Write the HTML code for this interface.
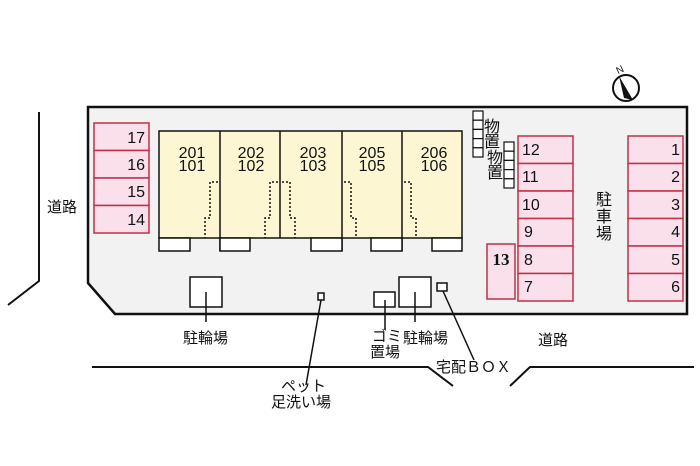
<!DOCTYPE html>
<html><head><meta charset="utf-8"><style>
html,body{margin:0;padding:0;background:#fff;}
svg{display:block;}
text{font-family:"Liberation Sans","Noto Sans CJK JP",sans-serif;fill:#111;}
</style></head><body>
<svg width="700" height="466" viewBox="0 0 700 466" xmlns="http://www.w3.org/2000/svg">
<rect width="700" height="466" fill="#fff"/>
<g stroke="#111" stroke-width="2" fill="none">
<polyline points="39,112 39,281 8,305"/>
<polyline points="92,367 428,367 453,386"/>
<polyline points="510,386 530,367 694,367"/>
</g>
<polygon points="88,107 687,107 687,314 115,314 88,283" fill="#f2f2f2" stroke="#111" stroke-width="2.5"/>
<g stroke="#c0304a" stroke-width="1.5" fill="#f9e0ea">
<rect x="94" y="123" width="55" height="27.5"/><rect x="94" y="150.5" width="55" height="27.5"/>
<rect x="94" y="178" width="55" height="27.5"/><rect x="94" y="205.5" width="55" height="27.5"/>
</g>
<g font-size="16" text-anchor="end">
<text x="145" y="143">17</text><text x="145" y="170">16</text><text x="145" y="197">15</text><text x="145" y="225">14</text>
</g>
<rect x="159" y="131" width="303" height="107" fill="#fcf7d2" stroke="#111" stroke-width="1.5"/>
<g stroke="#111" stroke-width="1.5"><line x1="220" y1="131" x2="220" y2="251"/><line x1="280" y1="131" x2="280" y2="238"/><line x1="342" y1="131" x2="342" y2="251"/><line x1="402" y1="131" x2="402" y2="251"/></g>
<g fill="#fff" stroke="#111" stroke-width="1.5">
<rect x="159" y="238" width="31" height="13"/><rect x="220" y="238" width="30" height="13"/><rect x="311" y="238" width="31" height="13"/><rect x="371" y="238" width="31" height="13"/><rect x="432" y="238" width="30" height="13"/>
</g>
<g stroke="#111" stroke-width="1.5" stroke-dasharray="2,2" fill="none">
<polyline points="218,182 210,182 210,218 205,218 205,238"/>
<polyline points="278,182 270,182 270,218 265,218 265,238"/>
<polyline points="282,182 290,182 290,218 295,218 295,238"/>
<polyline points="344,182 351,182 351,218 356,218 356,238"/>
<polyline points="404,182 411,182 411,218 416,218 416,238"/>
</g>
<g font-size="16" text-anchor="middle">
<text x="192" y="158">201</text><text x="192" y="171">101</text>
<text x="251" y="158">202</text><text x="251" y="171">102</text>
<text x="313" y="158">203</text><text x="313" y="171">103</text>
<text x="372" y="158">205</text><text x="372" y="171">105</text>
<text x="434" y="158">206</text><text x="434" y="171">106</text>
</g>
<g fill="#fff" stroke="#111" stroke-width="1.2">
<rect x="473" y="111" width="10" height="9.2"/><rect x="473" y="120.2" width="10" height="9.2"/><rect x="473" y="129.4" width="10" height="9.2"/><rect x="473" y="138.6" width="10" height="9.2"/><rect x="473" y="147.8" width="10" height="9.2"/>
<rect x="504" y="142" width="10" height="9.2"/><rect x="504" y="151.2" width="10" height="9.2"/><rect x="504" y="160.4" width="10" height="9.2"/><rect x="504" y="169.6" width="10" height="9.2"/><rect x="504" y="178.8" width="10" height="9.2"/>
</g>
<g font-size="16" text-anchor="middle"><text x="492" y="132">物</text><text x="492" y="147">置</text><text x="495" y="163">物</text><text x="495" y="178">置</text></g>
<g stroke="#c0304a" stroke-width="1.5" fill="#f9e0ea">
<rect x="518" y="136" width="55" height="27.5"/><rect x="518" y="163.5" width="55" height="27.5"/><rect x="518" y="191" width="55" height="27.5"/><rect x="518" y="218.5" width="55" height="27.5"/><rect x="518" y="246" width="55" height="27.5"/><rect x="518" y="273.5" width="55" height="27.5"/>
<rect x="628" y="136" width="55" height="27.5"/><rect x="628" y="163.5" width="55" height="27.5"/><rect x="628" y="191" width="55" height="27.5"/><rect x="628" y="218.5" width="55" height="27.5"/><rect x="628" y="246" width="55" height="27.5"/><rect x="628" y="273.5" width="55" height="27.5"/>
<rect x="487" y="244" width="28" height="55"/>
</g>
<g font-size="16">
<text x="522" y="155">12</text><text x="522" y="182">11</text><text x="522" y="210">10</text><text x="524" y="237">9</text><text x="524" y="265">8</text><text x="524" y="292">7</text>
</g>
<g font-size="16" text-anchor="end">
<text x="680" y="155">1</text><text x="680" y="182">2</text><text x="680" y="210">3</text><text x="680" y="237">4</text><text x="680" y="265">5</text><text x="680" y="292">6</text>
</g>
<text x="501" y="265" font-size="17" text-anchor="middle" style="font-family:'Liberation Serif',serif;font-weight:bold">13</text>
<g font-size="16" text-anchor="middle"><text x="604" y="205">駐</text><text x="604" y="222">車</text><text x="604" y="239">場</text></g>
<circle cx="626" cy="88" r="13" fill="#fff" stroke="#111" stroke-width="2"/>
<polygon points="619,76 633,100 624,98" fill="#111"/>
<text x="620" y="73" font-size="10" text-anchor="middle" transform="rotate(-25 620 70)">N</text>
<g fill="#fff" stroke="#111" stroke-width="1.5">
<rect x="190" y="277" width="32" height="30"/><rect x="399" y="277" width="32" height="30"/>
<rect x="374" y="292" width="21" height="15"/><rect x="318" y="293" width="6" height="7"/><rect x="437" y="283" width="10" height="8"/>
</g>
<g stroke="#111" stroke-width="1.5">
<line x1="206" y1="292" x2="206" y2="322"/><line x1="415" y1="292" x2="415" y2="322"/><line x1="385" y1="300" x2="385" y2="330"/>
<line x1="321" y1="300" x2="306" y2="385"/><line x1="443" y1="291" x2="474" y2="360"/>
</g>
<g font-size="15">
<text x="183" y="343">駐輪場</text><text x="403" y="343">駐輪場</text>
<text x="372" y="341">ゴミ</text><text x="370" y="357">置場</text>
<text x="436" y="372">宅配ＢＯＸ</text>
<text x="281" y="391">ペット</text><text x="271" y="407">足洗い場</text>
<text x="538" y="345">道路</text><text x="47" y="212">道路</text>
</g>
</svg>
</body></html>
